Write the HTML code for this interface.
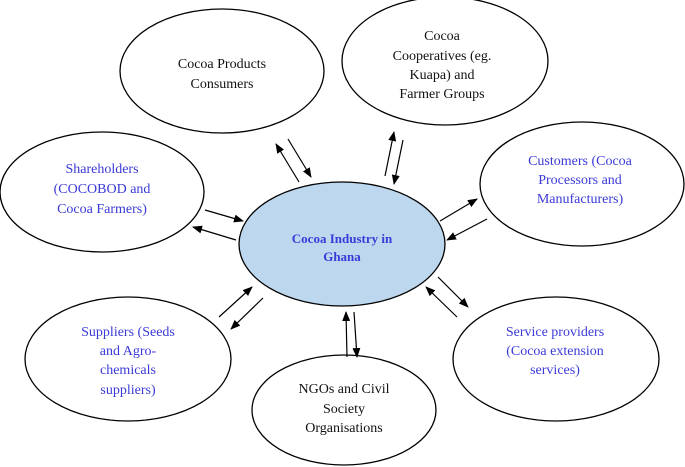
<!DOCTYPE html>
<html><head><meta charset="utf-8"><style>
html,body{margin:0;padding:0;background:#fff;}
svg{display:block;}
text{font-family:"Liberation Serif",serif;font-size:14px;text-anchor:middle;}
.b{fill:#3a3ad8;}
.k{fill:#111;}
</style></head><body>
<svg width="685" height="467" viewBox="0 0 685 467" xmlns="http://www.w3.org/2000/svg">
<defs><marker id="a" markerWidth="10" markerHeight="8" refX="9" refY="4" orient="auto" markerUnits="userSpaceOnUse"><path d="M0,0 L10,4 L0,8 Z" fill="#000"/></marker></defs>
<g fill="#fff" stroke="#000" stroke-width="1.3">
<ellipse cx="222" cy="71" rx="102" ry="62"/>
<ellipse cx="445" cy="61" rx="103" ry="64"/>
<ellipse cx="102" cy="192" rx="102" ry="60"/>
<ellipse cx="582" cy="184" rx="102" ry="62"/>
<ellipse cx="128" cy="359" rx="103" ry="62"/>
<ellipse cx="556" cy="359" rx="103" ry="62"/>
<ellipse cx="344" cy="410" rx="92" ry="55"/>
<ellipse cx="342" cy="244" rx="103" ry="62" fill="#bdd7ee"/>
</g>
<g stroke="#000" stroke-width="1.2" marker-end="url(#a)">
<line x1="299" y1="182" x2="276" y2="144"/>
<line x1="288" y1="139" x2="311" y2="177"/>
<line x1="385" y1="176" x2="394" y2="132"/>
<line x1="403" y1="140" x2="394" y2="184"/>
<line x1="205" y1="210" x2="243" y2="221"/>
<line x1="236" y1="240" x2="193" y2="227"/>
<line x1="440" y1="221" x2="477" y2="199"/>
<line x1="487" y1="219" x2="447" y2="240"/>
<line x1="219" y1="317" x2="252" y2="287"/>
<line x1="263" y1="298" x2="231" y2="329"/>
<line x1="457" y1="317" x2="426" y2="287"/>
<line x1="438" y1="277" x2="468" y2="307"/>
<line x1="347" y1="357" x2="346" y2="312"/>
<line x1="354" y1="312" x2="357" y2="357"/>
</g>
<text class="k" x="222" y="68">Cocoa Products</text>
<text class="k" x="222" y="88">Consumers</text>
<text class="k" x="442" y="40">Cocoa</text>
<text class="k" x="442" y="60">Cooperatives (eg.</text>
<text class="k" x="442" y="79">Kuapa) and</text>
<text class="k" x="442" y="98">Farmer Groups</text>
<text class="b" x="102" y="173">Shareholders</text>
<text class="b" x="102" y="193">(COCOBOD and</text>
<text class="b" x="102" y="213">Cocoa Farmers)</text>
<text class="b" x="580" y="165">Customers (Cocoa</text>
<text class="b" x="580" y="184">Processors and</text>
<text class="b" x="580" y="203">Manufacturers)</text>
<text class="b" x="342" y="243" style="font-weight:bold;font-size:13px">Cocoa Industry in</text>
<text class="b" x="342" y="261" style="font-weight:bold;font-size:13px">Ghana</text>
<text class="b" x="128" y="336">Suppliers (Seeds</text>
<text class="b" x="128" y="355">and Agro-</text>
<text class="b" x="128" y="374">chemicals</text>
<text class="b" x="128" y="394">suppliers)</text>
<text class="b" x="555" y="336">Service providers</text>
<text class="b" x="555" y="355">(Cocoa extension</text>
<text class="b" x="555" y="374">services)</text>
<text class="k" x="344" y="393">NGOs and Civil</text>
<text class="k" x="344" y="413">Society</text>
<text class="k" x="344" y="432">Organisations</text>
</svg>
</body></html>
